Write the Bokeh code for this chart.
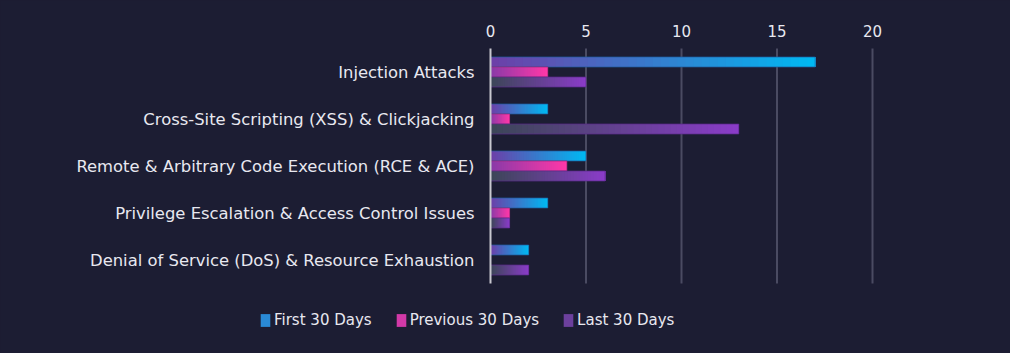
from bokeh.plotting import figure
from bokeh.models import Range1d, ColumnDataSource, Legend, LegendItem
from bokeh.core.properties import value
from bokeh.embed import file_html
from bokeh.resources import INLINE

categories = [
    "Injection Attacks",
    "Cross-Site Scripting (XSS) & Clickjacking",
    "Remote & Arbitrary Code Execution (RCE & ACE)",
    "Privilege Escalation & Access Control Issues",
    "Denial of Service (DoS) & Resource Exhaustion",
]
first_30 = [17, 3, 5, 3, 2]
previous_30 = [3, 1, 4, 1, 0]
last_30 = [5, 13, 6, 1, 2]
series_names = ["First 30 Days", "Previous 30 Days", "Last 30 Days"]
x_ticks = [0, 5, 10, 15, 20]

BG = "#1c1d33"
TEXT = "#e8e8f0"
FONT = "DejaVu Sans"

W, H = 1010, 353
X0_PX, X1_PX = 490, 872          # pixel positions of axis start / end
CAT_TOP_PX, CAT_STEP_PX = 71.5, 47.0  # centre of first category, spacing
x_max = x_ticks[-1]
ppu = (X1_PX - X0_PX) / x_max

gradients = [("#6c40a8", "#00b8f2"), ("#8a3aa8", "#ff38a8"), ("#3c4658", "#8a3cc8")]
outlines = ["#1f5a9a", "#9a2a78", "#5a2a8a"]
offsets = [-0.213, 0.0, 0.213]
BAR_H = 0.213
N = 40


def hex2rgb(h):
    h = h.lstrip("#")
    return tuple(int(h[i:i + 2], 16) for i in (0, 2, 4))


def lerp(c1, c2, t):
    a, b = hex2rgb(c1), hex2rgb(c2)
    return "#%02x%02x%02x" % tuple(int(round(a[k] + (b[k] - a[k]) * t)) for k in range(3))


p = figure(
    width=W, height=H,
    x_range=Range1d(-X0_PX / ppu, (W - X0_PX) / ppu),
    y_range=Range1d((H - CAT_TOP_PX) / CAT_STEP_PX, -CAT_TOP_PX / CAT_STEP_PX),
    output_backend="svg", toolbar_location=None,
    min_border_left=0, min_border_right=0, min_border_top=0, min_border_bottom=0,
)
p.axis.visible = False
p.grid.visible = False
p.background_fill_color = BG
p.border_fill_color = BG
p.outline_line_color = None
p.styles = {"background-color": BG}

ncat = len(categories)
ypos = list(range(ncat))

# grid lines
grid_x = [t for t in x_ticks if t != 0]
p.segment(x0=grid_x, x1=grid_x, y0=[-0.5] * len(grid_x), y1=[ncat - 0.5] * len(grid_x),
          line_color="#4a4b62", line_width=2)

# tick labels on top
p.text(x=x_ticks, y=[-0.5] * len(x_ticks), text=[str(t) for t in x_ticks],
       text_align="center", text_baseline="middle", y_offset=-18,
       text_color=TEXT, text_font=value(FONT), text_font_size="15px")

# category labels
p.text(x=[0] * ncat, y=ypos, text=categories, text_align="right", text_baseline="middle",
       x_offset=-16, text_color=TEXT, text_font=value(FONT), text_font_size="16.4px")

all_series = [first_30, previous_30, last_30]
legend_items = []
for s, vals in enumerate(all_series):
    c0, c1 = gradients[s]
    ys, lefts, rights, colors = [], [], [], []
    for k, v in enumerate(vals):
        if v <= 0:
            continue
        for i in range(N):
            ys.append(k + offsets[s])
            lefts.append(v * i / N)
            rights.append(v)
            colors.append(lerp(c0, c1, i / (N - 1)))
    src = ColumnDataSource(dict(y=ys, left=lefts, right=rights, color=colors))
    r = p.hbar(y="y", left="left", right="right", height=BAR_H,
               fill_color="color", line_color=None, source=src)
    oy = [k + offsets[s] for k, v in enumerate(vals) if v > 0]
    ov = [v for v in vals if v > 0]
    p.hbar(y=oy, left=0, right=ov, height=BAR_H, fill_color=None,
           line_color=outlines[s], line_alpha=0.7, line_width=1)
    legend_items.append(LegendItem(label=series_names[s], renderers=[r], index=int(N * 0.6)))

# zero line
p.segment(x0=[0], x1=[0], y0=[-0.5], y1=[ncat - 0.5], line_color="#c8c8d0", line_width=2)

legend = Legend(items=legend_items, orientation="horizontal", location=(259, 24),
                background_fill_alpha=0, border_line_color=None,
                label_text_color=TEXT, label_text_font=FONT, label_text_font_size="15px",
                glyph_width=12, glyph_height=16, label_standoff=3, spacing=23,
                padding=0, margin=0)
p.add_layout(legend, "center")

open("out.html", "w").write(file_html(p, INLINE))
